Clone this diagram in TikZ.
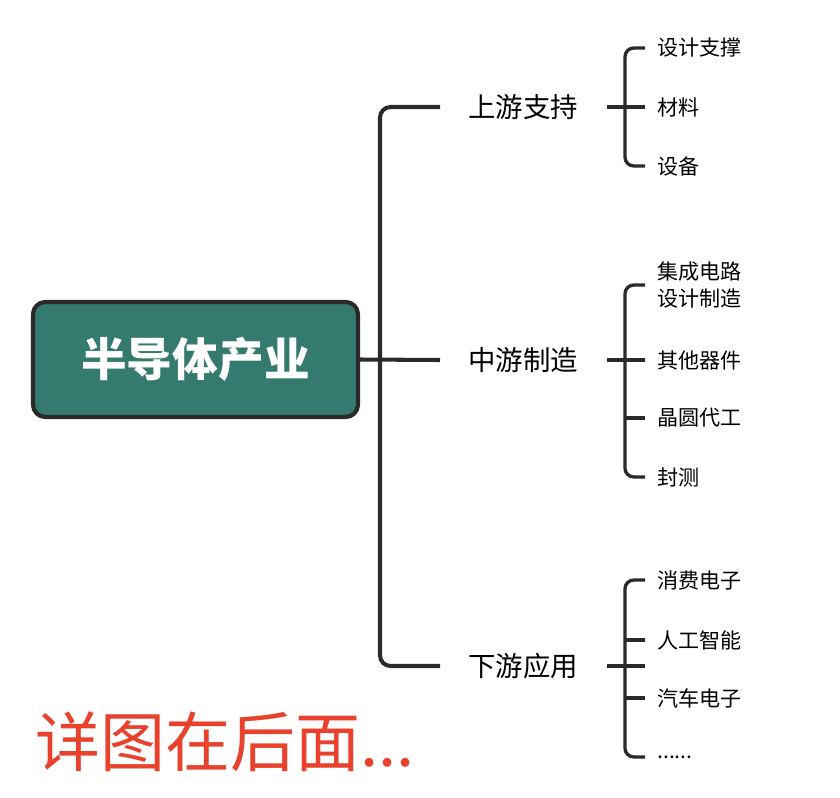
\documentclass[tikz,border=0pt]{standalone}
\usepackage{fontspec}
\setmainfont{Noto Sans CJK SC}
\usetikzlibrary{positioning}
\definecolor{rootfill}{HTML}{357A6E}
\definecolor{linegray}{HTML}{2A2A2A}
\definecolor{notered}{HTML}{E8412C}
\tikzset{
  root/.style = {draw=linegray, line width=2.4pt, fill=rootfill, rounded corners=7pt,
    minimum width=6.5cm, minimum height=2.3cm, text=white, font=\fontsize{26}{30}\selectfont\bfseries},
  branch/.style = {font=\fontsize{15.6}{18}\selectfont, inner sep=0pt, anchor=west},
  leaf/.style = {font=\fontsize{12}{15}\selectfont, inner sep=0pt, anchor=west, align=left},
  trunk/.style = {draw=linegray, line width=2.3pt, rounded corners=6pt},
  twig/.style = {draw=linegray, line width=1.9pt, rounded corners=5pt}
}
\begin{document}
\begin{tikzpicture}[x=0.02cm, y=-0.02cm]
  \useasboundingbox (0,0) rectangle (840,798);
  \node[root] (ind) at (195.5,359.5) {半导体产业};
  % first level
  \node[branch] (up) at (468,107) {上游支持};
  \node[branch] (mid) at (468,360) {中游制造};
  \node[branch] (down) at (468,666) {下游应用};
  \coordinate (upin) at (440,107);
  \coordinate (midin) at (440,360);
  \coordinate (downin) at (440,666);
  \draw[trunk] (upin) -| (380,360) |- (downin);
  \draw[trunk] (ind.east) -- (midin);
  % leaves
  \node[leaf] (u1) at (657,48) {设计支撑};
  \node[leaf] (u2) at (657,107) {材料};
  \node[leaf] (u3) at (657,166) {设备};
  \node[leaf] (m1) at (657,285) {集成电路\\设计制造};
  \node[leaf] (m2) at (657,360) {其他器件};
  \node[leaf] (m3) at (657,418) {晶圆代工};
  \node[leaf] (m4) at (657,477) {封测};
  \node[leaf] (d1) at (657,580) {消费电子};
  \node[leaf] (d2) at (657,640) {人工智能};
  \node[leaf] (d3) at (657,698) {汽车电子};
  \node[leaf] (d4) at (657,757) {......};
  \foreach \p/\a/\b in {up/u1/u3, mid/m1/m4, down/d1/d4}{
    \coordinate (\a e) at (645,0 |- \a.west);
    \coordinate (\b e) at (645,0 |- \b.west);
    \draw[twig] (\a e) -| (625,0 |- \p.east) |- (\b e);
    \draw[twig] (607,0 |- \p.east) -- (645,0 |- \p.east);
  }
  \draw[twig] (625,0 |- m2.west) -- (645,0 |- m2.west);
  \draw[twig] (625,0 |- m3.west) -- (645,0 |- m3.west);
  \draw[twig] (625,0 |- d2.west) -- (645,0 |- d2.west);
  \draw[twig] (625,0 |- d3.west) -- (645,0 |- d3.west);
  \node[anchor=west, inner sep=0pt, text=notered, font=\fontsize{37}{40}\selectfont] (more) at (35,742) {详图在后面...};
\end{tikzpicture}
\end{document}
